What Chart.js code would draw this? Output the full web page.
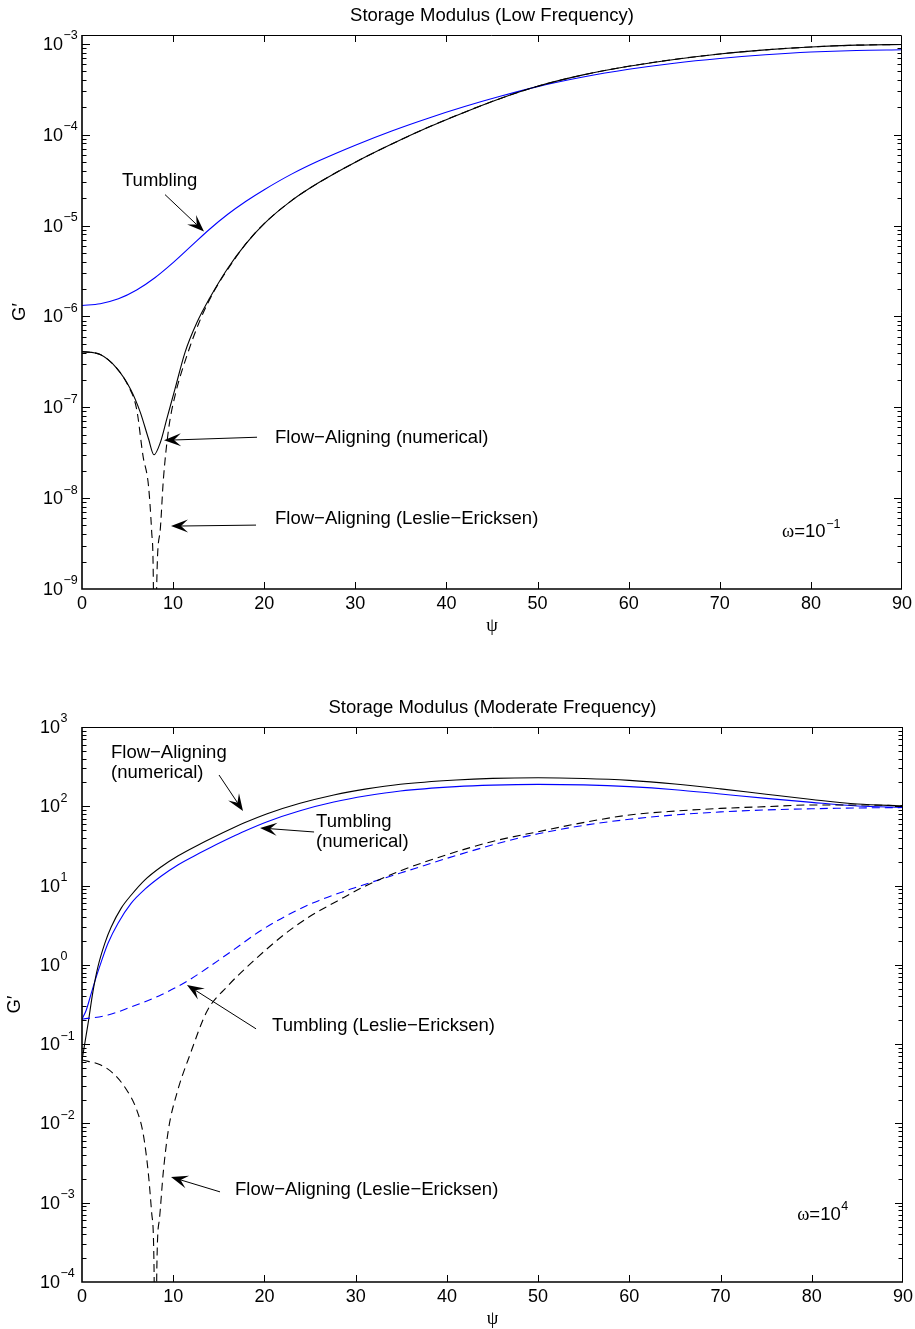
<!DOCTYPE html>
<html lang="en">
<head>
<meta charset="UTF-8">
<title>Storage Modulus</title>
<style>
  body { margin: 0; background: #fff; }
  .box { position: absolute; left: 0; width: 915px; }
  #top { top: 0; height: 650px; }
  #bottom { top: 650px; height: 679px; }
</style>
</head>
<body>
<div class="box" id="top"><canvas id="lowChart"></canvas></div>
<div class="box" id="bottom"><canvas id="modChart"></canvas></div>

<script src="https://cdn.jsdelivr.net/npm/chart.js"></script>
<script>
// ---- low frequency, omega = 10^-1 ----
const lowTumbX = [0, 2, 4, 6, 8, 10, 12, 14, 16, 18, 20, 23, 26, 30, 34, 38, 42, 46, 50, 55, 60, 65, 70, 75, 80, 85, 90];
const lowTumbG = [1.32e-6, 1.38e-6, 1.56e-6, 1.95e-6, 2.66e-6, 3.9e-6, 5.96e-6, 9.1e-6, 1.33e-5, 1.85e-5, 2.48e-5, 3.68e-5, 5.16e-5, 7.67e-5, 1.10e-4, 1.52e-4, 2.04e-4, 2.66e-4, 3.38e-4, 4.31e-4, 5.24e-4, 6.12e-4, 6.90e-4, 7.57e-4, 8.11e-4, 8.45e-4, 8.59e-4];

const lowFaX = [0, 2, 3.8, 5.3, 6.4, 7.3, 7.9, 8.6, 9.3, 10.2, 11.3, 12.6, 14, 16, 18, 20, 23, 26, 30, 34, 38, 42, 46, 50, 55, 60, 65, 70, 75, 80, 85, 90];
const lowFaG = [4.1e-7, 3.8e-7, 2.7e-7, 1.6e-7, 8.8e-8, 4.5e-8, 3.0e-8, 4.1e-8, 7.4e-8, 1.58e-7, 4.0e-7, 8.5e-7, 1.58e-6, 3.39e-6, 6.31e-6, 1.05e-5, 1.88e-5, 2.97e-5, 4.98e-5, 7.89e-5, 1.205e-4, 1.77e-4, 2.52e-4, 3.41e-4, 4.55e-4, 5.66e-4, 6.73e-4, 7.73e-4, 8.57e-4, 9.23e-4, 9.66e-4, 9.84e-4];

const lowLeX = [0, 2, 3.8, 5.1, 6.0, 6.7, 7.3, 7.65, 7.83, 8.0, 8.2, 8.56, 8.93, 9.5, 10.2, 11.5, 13, 14.5, 16, 18, 20, 23, 26, 30, 34, 38, 42, 46, 50, 55, 60, 65, 70, 75, 80, 85, 90];
const lowLeG = [4.1e-7, 3.8e-7, 2.7e-7, 1.7e-7, 9.5e-8, 2.9e-8, 1.36e-8, 4.2e-9, 1.2e-9, 1e-12, 1.09e-9, 4.2e-9, 1.6e-8, 5.7e-8, 1.33e-7, 3.66e-7, 9.3e-7, 1.9e-6, 3.3e-6, 6.31e-6, 1.05e-5, 1.88e-5, 2.97e-5, 4.98e-5, 7.89e-5, 1.205e-4, 1.77e-4, 2.52e-4, 3.41e-4, 4.55e-4, 5.66e-4, 6.73e-4, 7.73e-4, 8.57e-4, 9.23e-4, 9.66e-4, 9.84e-4];

// ---- moderate frequency, omega = 10^4 ----
const modFaX = [0, 0.66, 1.2, 1.75, 2.5, 3.2, 4.3, 5.4, 6.9, 8.7, 10.5, 12.9, 14.2, 16.6, 17.8, 20.3, 23.9, 27.6, 31.2, 34.9, 41, 45, 50, 55, 60, 65, 70, 75, 80, 85, 90];
const modFaG = [0.063, 0.18, 0.46, 0.95, 1.87, 3.0, 5.2, 7.6, 11.8, 17.3, 23.6, 33.3, 39.6, 53.6, 61.8, 80.5, 109, 139, 166, 190, 215, 225, 229, 224, 212, 191, 166, 142, 122, 107, 101];

const modTumbX = [0, 0.47, 1.02, 1.57, 2.12, 2.85, 3.95, 5.4, 6.9, 8.7, 10.5, 12.9, 14.2, 16.6, 17.8, 20.3, 23.9, 27.6, 31.2, 34.9, 41, 45, 50, 55, 60, 65, 70, 75, 80, 85, 90];
const modTumbG = [0.206, 0.27, 0.44, 0.71, 1.1, 1.87, 3.35, 6.0, 9.0, 13.2, 18.2, 25.7, 30.7, 41.8, 48.5, 64, 87.9, 113, 135.5, 156, 177, 185, 189, 186, 177, 162, 143, 126, 112, 101, 97];

const modTumbLeX = [0, 2.85, 5, 8.7, 11.5, 16, 19.7, 23.3, 26, 30, 35, 41, 46.4, 50, 55.5, 60, 65, 70, 75, 80, 85, 90];
const modTumbLeG = [0.206, 0.233, 0.283, 0.42, 0.62, 1.38, 2.75, 4.71, 6.5, 9.48, 14.5, 23.9, 36, 45, 58.7, 68.5, 77.8, 84.9, 89.9, 93.1, 95.3, 96.4];

const modFaLeX = [0, 2, 3.4, 4.9, 6, 6.7, 7.27, 7.64, 7.9, 8.05, 8.2, 8.48, 8.9, 9.47, 10.4, 11.9, 13.7, 15.9, 18.8, 22.1, 25, 28, 31, 35, 40, 45, 50, 55.5, 60, 65, 70, 75, 80, 85, 90];
const modFaLeG = [0.063, 0.055, 0.043, 0.0264, 0.0148, 0.0075, 0.00236, 7.4e-4, 1.4e-4, 1e-7, 1.4e-4, 6.1e-4, 0.00236, 0.0083, 0.024, 0.077, 0.26, 0.53, 1.12, 2.38, 4.1, 6.4, 9.8, 15.5, 24.5, 36, 47.8, 64, 77.6, 87, 94, 99, 104, 104, 102];

// axis ticks
const psiTicks = [0, 10, 20, 30, 40, 50, 60, 70, 80, 90];
const lowExps = [-9, -8, -7, -6, -5, -4, -3];
const modExps = [-4, -3, -2, -1, 0, 1, 2, 3];

const SANS = '"Liberation Sans", Arial, Helvetica, sans-serif';
const SERIF = '"Liberation Serif", "Times New Roman", serif';
const TXT = '18.5px ' + SANS;

const pts = (xs, ys) => xs.map((x, i) => ({ x: x, y: ys[i] }));

function line(xs, ys, color, dashed) {
    return {
        data: pts(xs, ys),
        borderColor: color,
        borderWidth: 1.1,
        borderDash: dashed ? [8, 5] : [],
        pointRadius: 0,
        cubicInterpolationMode: 'monotone',
        clip: 0,
        fill: false
    };
}

// arrow with a notched (vback) head
function drawArrow(ctx, x1, y1, x2, y2) {
    const dx = x2 - x1, dy = y2 - y1;
    const len = Math.hypot(dx, dy);
    const ux = dx / len, uy = dy / len, nx = -uy, ny = ux;
    const L = 17, W = 6.5, notch = 10;
    const bx = x2 - ux * L, by = y2 - uy * L;
    const mx = x2 - ux * notch, my = y2 - uy * notch;
    ctx.lineWidth = 1;
    ctx.beginPath();
    ctx.moveTo(x1, y1);
    ctx.lineTo(mx, my);
    ctx.stroke();
    ctx.beginPath();
    ctx.moveTo(x2, y2);
    ctx.lineTo(bx + nx * W, by + ny * W);
    ctx.lineTo(mx, my);
    ctx.lineTo(bx - nx * W, by - ny * W);
    ctx.closePath();
    ctx.fill();
}

const expText = e => (e < 0 ? '\u2212' + (-e) : String(e));

// matlab-like box, inward ticks, labels and notes
const axesDeco = {
    id: 'axesDeco',
    afterDatasetsDraw(chart, args, o) {
        const ctx = chart.ctx;
        const a = chart.chartArea;
        const sx = chart.scales.x, sy = chart.scales.y;
        ctx.save();
        ctx.strokeStyle = '#000';
        ctx.fillStyle = '#000';

        // box
        ctx.lineWidth = 1;
        ctx.beginPath();
        ctx.moveTo(a.left, a.top + 0.5);
        ctx.lineTo(a.right - 0.5, a.top + 0.5);
        ctx.lineTo(a.right - 0.5, a.bottom);
        ctx.stroke();
        ctx.lineWidth = 1.6;
        ctx.beginPath();
        ctx.moveTo(a.left, a.top);
        ctx.lineTo(a.left, a.bottom);
        ctx.lineTo(a.right, a.bottom);
        ctx.stroke();

        // x ticks
        ctx.lineWidth = 1;
        ctx.font = '18px ' + SANS;
        ctx.textAlign = 'center';
        ctx.textBaseline = 'middle';
        psiTicks.forEach(v => {
            const px = Math.round(sx.getPixelForValue(v)) + 0.5;
            if (v !== sx.min && v !== sx.max) {
                ctx.beginPath();
                ctx.moveTo(px, a.bottom);
                ctx.lineTo(px, a.bottom - 7);
                ctx.moveTo(px, a.top);
                ctx.lineTo(px, a.top + 7);
                ctx.stroke();
            }
            ctx.fillText(String(v), sx.getPixelForValue(v), a.bottom + 15);
        });

        // y ticks, major and minor
        const exps = o.exps;
        const tick = (val, len) => {
            const py = Math.round(sy.getPixelForValue(val)) + 0.5;
            ctx.beginPath();
            ctx.moveTo(a.left, py);
            ctx.lineTo(a.left + len, py);
            ctx.moveTo(a.right, py);
            ctx.lineTo(a.right - len, py);
            ctx.stroke();
        };
        exps.forEach(e => {
            if (e !== exps[0]) tick(Math.pow(10, e), 8);
            for (let m = 2; m <= 9; m++) {
                const v = m * Math.pow(10, e);
                if (v < sy.max) tick(v, 4.5);
            }
        });
        exps.forEach(e => {
            const py = sy.getPixelForValue(Math.pow(10, e));
            ctx.font = '18px ' + SANS;
            ctx.textAlign = 'right';
            ctx.fillText('10', o.tenRight, py + 1);
            ctx.font = '12.5px ' + SANS;
            ctx.textAlign = 'left';
            ctx.fillText(expText(e), o.tenRight + 0.5, py - 8);
        });

        // axis titles
        const cx = (a.left + a.right) / 2;
        ctx.textAlign = 'center';
        ctx.font = '18.5px ' + SERIF;
        ctx.fillText('\u03c8', cx, a.bottom + 37.5);
        ctx.font = TXT;
        ctx.fillText(o.title, cx, a.top - 19.5);
        ctx.save();
        ctx.translate(o.gx, (a.top + a.bottom) / 2);
        ctx.rotate(-Math.PI / 2);
        ctx.fillText('G\u2032', 0, 0);
        ctx.restore();

        // notes
        ctx.textAlign = 'left';
        ctx.font = TXT;
        o.notes.forEach(n => {
            const px = sx.getPixelForValue(n.x), py = sy.getPixelForValue(n.y);
            n.lines.forEach((t, i) => ctx.fillText(t, px, py + i * 20));
        });
        o.arrows.forEach(r => {
            drawArrow(ctx,
                sx.getPixelForValue(r.from[0]), sy.getPixelForValue(r.from[1]),
                sx.getPixelForValue(r.to[0]), sy.getPixelForValue(r.to[1]));
        });

        // omega label
        const w = o.omega;
        let px = sx.getPixelForValue(w.x);
        const py = sy.getPixelForValue(w.y);
        ctx.font = '18.5px ' + SERIF;
        ctx.fillText('\u03c9', px, py);
        px += ctx.measureText('\u03c9').width;
        ctx.font = TXT;
        ctx.fillText('=10', px, py);
        px += ctx.measureText('=10').width;
        ctx.font = '12.5px ' + SANS;
        ctx.fillText(w.exp, px + 0.5, py - 8);

        ctx.restore();
    }
};

function makeChart(id, datasets, cfg) {
    return new Chart(document.getElementById(id), {
        type: 'line',
        data: { datasets: datasets },
        plugins: [axesDeco],
        options: {
            responsive: true,
            maintainAspectRatio: false,
            devicePixelRatio: 1,
            animation: false,
            layout: { padding: { top: cfg.padTop, right: cfg.padRight, left: 0, bottom: 0 } },
            scales: {
                x: {
                    type: 'linear', min: 0, max: 90,
                    ticks: { display: false }, grid: { display: false }, border: { display: false },
                    afterFit: s => { s.height = cfg.xH; }
                },
                y: {
                    type: 'logarithmic', min: cfg.yMin, max: cfg.yMax,
                    ticks: { display: false }, grid: { display: false }, border: { display: false },
                    afterFit: s => { s.width = 82; }
                }
            },
            plugins: {
                legend: { display: false },
                tooltip: { enabled: false },
                axesDeco: cfg.deco
            }
        }
    });
}

makeChart('lowChart', [
    line(lowLeX, lowLeG, '#000000', true),
    line(lowFaX, lowFaG, '#000000', false),
    line(lowTumbX, lowTumbG, '#0000ff', false)
], {
    padTop: 35, padRight: 13, xH: 61, yMin: 1e-9, yMax: 1.25e-3,
    deco: {
        title: 'Storage Modulus (Low Frequency)',
        exps: lowExps, tenRight: 63, gx: 20,
        notes: [
            { lines: ['Tumbling'], x: 4.39, y: 3.13e-5 },
            { lines: ['Flow\u2212Aligning (numerical)'], x: 21.19, y: 4.56e-8 },
            { lines: ['Flow\u2212Aligning (Leslie\u2212Ericksen)'], x: 21.19, y: 5.87e-9 }
        ],
        arrows: [
            { from: [9.11, 2.19e-5], to: [13.39, 8.6e-6] },
            { from: [19.21, 4.68e-8], to: [9.0, 4.33e-8] },
            { from: [19.1, 5.05e-9], to: [9.77, 4.92e-9] }
        ],
        omega: { x: 76.84, y: 4.23e-9, exp: '\u22121' }
    }
});

makeChart('modChart', [
    line(modFaLeX, modFaLeG, '#000000', true),
    line(modTumbLeX, modTumbLeG, '#0000ff', true),
    line(modFaX, modFaG, '#000000', false),
    line(modTumbX, modTumbG, '#0000ff', false)
], {
    padTop: 77, padRight: 12, xH: 47, yMin: 1e-4, yMax: 1e3,
    deco: {
        title: 'Storage Modulus (Moderate Frequency)',
        exps: modExps, tenRight: 60, gx: 15,
        notes: [
            { lines: ['Flow\u2212Aligning', '(numerical)'], x: 3.18, y: 470 },
            { lines: ['Tumbling', '(numerical)'], x: 25.66, y: 63.4 },
            { lines: ['Tumbling (Leslie\u2212Ericksen)'], x: 20.83, y: 0.170 },
            { lines: ['Flow\u2212Aligning (Leslie\u2212Ericksen)'], x: 16.78, y: 1.45e-3 }
        ],
        arrows: [
            { from: [15.02, 248], to: [17.65, 87.3] },
            { from: [25.44, 47.4], to: [19.52, 53.3] },
            { from: [19.08, 0.156], to: [11.51, 0.558] },
            { from: [15.13, 1.37e-3], to: [9.76, 2.11e-3] }
        ],
        omega: { x: 78.4, y: 7.0e-4, exp: '4' }
    }
});
</script>
</body>
</html>
